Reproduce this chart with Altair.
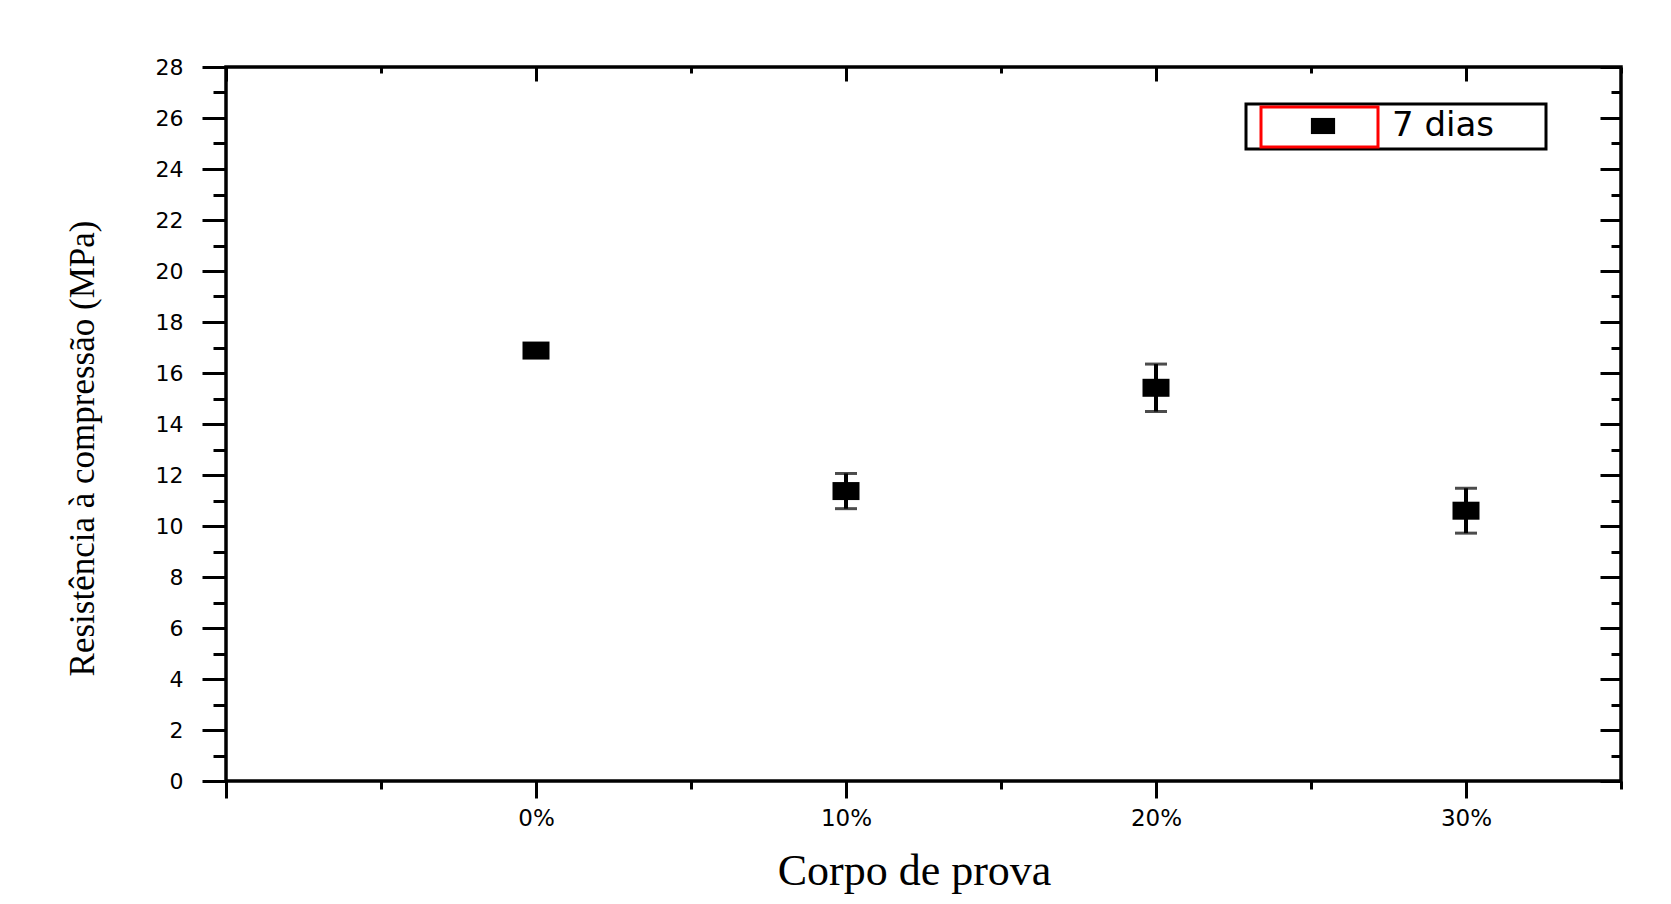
import altair as alt
import pandas as pd

# ---- data ----
categories = ["0%", "10%", "20%", "30%"]
positions = [0, 1, 2, 3]
values = [16.88, 11.37, 15.42, 10.60]
errors = [0.20, 0.69, 0.93, 0.88]
series = "7 dias"

x_major = [-1, 0, 1, 2, 3]
x_minor = [-0.5, 0.5, 1.5, 2.5, 3.5]
y_major = list(range(0, 29, 2))
y_minor = list(range(1, 28, 2))

df = pd.DataFrame({
    "pos": positions,
    "cat": categories,
    "value": values,
    "lo": [v - e for v, e in zip(values, errors)],
    "hi": [v + e for v, e in zip(values, errors)],
    "series": [series] * len(values),
})

xs = alt.Scale(domain=[-1, 3.5], nice=False, zero=False)
ys = alt.Scale(domain=[0, 28], nice=False, zero=False)

label_list = "[" + ",".join("'%s'" % c for c in categories) + "]"
x_label_expr = "datum.value < 0 ? '' : %s[datum.value]" % label_list

TICK_FONT = "DejaVu Sans"
SERIF = "Liberation Serif"

common = dict(grid=False, domain=False, tickColor="black", tickWidth=3, labelColor="black")


def axis_layer(xaxis, yaxis):
    return alt.Chart(df).mark_point(opacity=0).encode(
        x=alt.X("pos:Q", scale=xs, axis=xaxis),
        y=alt.Y("value:Q", scale=ys, axis=yaxis),
    )


bottom_major = alt.Axis(orient="bottom", values=x_major, tickSize=17, labelExpr=x_label_expr,
                        labelFont=TICK_FONT, labelFontSize=23, labelPadding=9,
                        labelFlush=False, labelOverlap=False,
                        title="Corpo de prova", titleFont=SERIF, titleFontSize=44,
                        titleFontWeight="normal", titleColor="black",
                        titleX=688, titleY=90, titleBaseline="middle", titleAlign="center",
                        **common)
left_major = alt.Axis(orient="left", values=y_major, tickSize=24, format="d",
                      labelFont=TICK_FONT, labelFontSize=22, labelPadding=19,
                      labelFlush=False, labelOverlap=False,
                      title="Resistência à compressão (MPa)", titleFont=SERIF, titleFontSize=35,
                      titleFontWeight="normal", titleColor="black",
                      titleX=-144, titleY=381, titleAngle=270,
                      titleBaseline="middle", titleAlign="center",
                      **common)
bottom_minor = alt.Axis(orient="bottom", values=x_minor, tickSize=8, labels=False, title=None, **common)
left_minor = alt.Axis(orient="left", values=y_minor, tickSize=13, labels=False, title=None, **common)
top_major = alt.Axis(orient="top", values=x_major, tickSize=14, offset=-14, labels=False, title=None, **common)
right_major = alt.Axis(orient="right", values=y_major, tickSize=21, offset=-21, labels=False, title=None, **common)
top_minor = alt.Axis(orient="top", values=x_minor, tickSize=6, offset=-6, labels=False, title=None, **common)
right_minor = alt.Axis(orient="right", values=y_minor, tickSize=10, offset=-10, labels=False, title=None, **common)

ax1 = axis_layer(bottom_major, left_major)
ax2 = axis_layer(bottom_minor, left_minor)
ax3 = axis_layer(top_major, right_major)
ax4 = axis_layer(top_minor, right_minor)

square_path = "M-1.5,-1H1.5V1H-1.5Z"

err_rule = alt.Chart(df).mark_rule(color="black", strokeWidth=4).encode(
    x=alt.X("pos:Q", scale=xs, axis=None),
    y=alt.Y("lo:Q", scale=ys, axis=None),
    y2="hi:Q",
)
cap_lo = alt.Chart(df).mark_tick(color="black", orient="horizontal", size=22, thickness=3).encode(
    x=alt.X("pos:Q", scale=xs, axis=None),
    y=alt.Y("lo:Q", scale=ys, axis=None),
)
cap_hi = alt.Chart(df).mark_tick(color="black", orient="horizontal", size=22, thickness=3).encode(
    x=alt.X("pos:Q", scale=xs, axis=None),
    y=alt.Y("hi:Q", scale=ys, axis=None),
)
points = alt.Chart(df).mark_point(filled=True, color="black", size=324, opacity=1, strokeWidth=0).encode(
    x=alt.X("pos:Q", scale=xs, axis=None),
    y=alt.Y("value:Q", scale=ys, axis=None),
    shape=alt.Shape("series:N", scale=alt.Scale(range=[square_path]),
                    legend=alt.Legend(title=None, orient="none", legendX=1080, legendY=42,
                                      padding=0, symbolSize=260, symbolFillColor="black",
                                      symbolStrokeColor="black", symbolStrokeWidth=0,
                                      labelFont=TICK_FONT, labelFontSize=34, labelOffset=52,
                                      labelColor="black")),
)

box_df = pd.DataFrame({"k": [0]})
legend_box = alt.Chart(box_df).mark_rect(filled=False, stroke="black", strokeWidth=3).encode(
    x=alt.value(1020), x2=alt.value(1320), y=alt.value(37), y2=alt.value(82)
)
legend_sel = alt.Chart(box_df).mark_rect(filled=False, stroke="#ff0000", strokeWidth=3).encode(
    x=alt.value(1035), x2=alt.value(1152), y=alt.value(40), y2=alt.value(80)
)

chart = alt.layer(
    ax1, ax2, ax3, ax4, err_rule, cap_lo, cap_hi, points, legend_box, legend_sel
).resolve_axis(x="independent", y="independent").properties(
    width=1395, height=714,
    autosize=alt.AutoSizeParams(type="none"),
    padding={"left": 218, "top": 59, "right": 42, "bottom": 115},
    background="white",
).configure_view(stroke="black", strokeWidth=3.5, fill="white")

chart.save("out.html", embed_options={"renderer": "svg", "actions": False})
